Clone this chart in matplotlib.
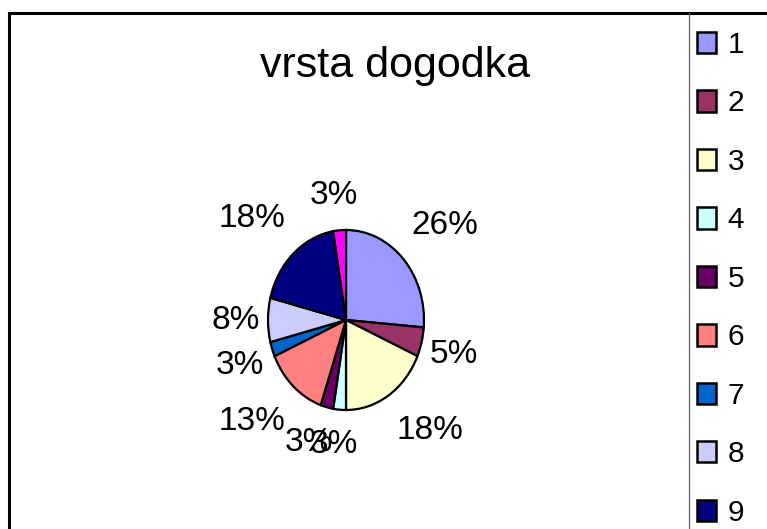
import numpy as np
import matplotlib
matplotlib.use("Agg")
import matplotlib.pyplot as plt
from matplotlib.lines import Line2D

plt.rcParams['font.family'] = ['Liberation Sans', 'DejaVu Sans']

# ---- data ----
title = "vrsta dogodka"
categories = ["1", "2", "3", "4", "5", "6", "7", "8", "9", "10"]
counts = [10, 2, 7, 1, 1, 5, 1, 3, 7, 1]
colors = ["#9999FF", "#993366", "#FFFFCC", "#CCFFFF", "#660066",
          "#FF8080", "#0066CC", "#CCCCFF", "#000080", "#FF00FF"]
# the legend runs off the bottom of the chart; only the first 9 entries are visible
legend_visible = 9

W, H = 767, 529
DPI = 100
fig = plt.figure(figsize=(W / DPI, H / DPI), dpi=DPI)

def fx(px):
    return px / W

def fy(py):
    return 1 - py / H

# pie axes (elliptical pie, as in the original)
cx, cy, rx, ry = 346, 320, 78, 90
ax = fig.add_axes([fx(cx - rx), fy(cy + ry), 2 * rx / W, 2 * ry / H])
wedges, _ = ax.pie(counts, colors=colors, startangle=90, counterclock=False,
                   radius=1.0,
                   wedgeprops=dict(edgecolor="black", linewidth=1.6))
ax.set_aspect('auto')
ax.set_xlim(-1, 1)
ax.set_ylim(-1, 1)
ax.axis('off')

# percentage labels, placed just outside each slice (Excel "best fit" style)
label_pt = 24
total = float(sum(counts))
fig.canvas.draw()
renderer = fig.canvas.get_renderer()
gap_x, gap_y = 8, 23
glyph_h = 0.716 * label_pt * DPI / 72
for w, c in zip(wedges, counts):
    ang = np.deg2rad((w.theta1 + w.theta2) / 2)
    ca, sa = np.cos(ang), np.sin(ang)
    t = ax.text(0, 0, f"{100 * c / total:.0f}%", ha="center", va="center",
                fontsize=label_pt, clip_on=False)
    bw = t.get_window_extent(renderer).width
    ex, ey = ax.transData.transform((ca, sa))  # edge point in display px
    px = ex + np.sign(ca) * (gap_x + bw / 2) * min(1.0, abs(ca) / 0.45)
    py = ey + np.sign(sa) * (gap_y + glyph_h / 2) * min(1.0, abs(sa) / 0.7)
    t.set_position(ax.transData.inverted().transform((px, py)))

# title
fig.text(fx(395), fy(77), title, ha="center", va="baseline", fontsize=31)

# chart border (top and left visible, rest runs off canvas)
fig.add_artist(Line2D([fx(8.5), fx(8.5)], [fy(H + 5), fy(13)], color="black",
                      lw=2.2, transform=fig.transFigure, solid_capstyle="projecting"))
fig.add_artist(Line2D([fx(8.5), fx(W + 5)], [fy(13), fy(13)], color="black",
                      lw=2.2, transform=fig.transFigure, solid_capstyle="projecting"))
# legend box left edge
fig.add_artist(Line2D([fx(689), fx(689)], [fy(H + 5), fy(13)], color="#606060",
                      lw=0.9, transform=fig.transFigure))

# legend
leg = fig.legend(wedges[:legend_visible], categories[:legend_visible],
                 loc="upper left",
                 bbox_to_anchor=(fx(697), fy(31)), frameon=False,
                 fontsize=21.5, handlelength=0.65, handleheight=0.72,
                 handletextpad=0.38, labelspacing=1.02, borderpad=0,
                 borderaxespad=0)
for h in leg.legend_handles:
    h.set_linewidth(1.8)

fig.savefig("out.png", dpi=DPI)
